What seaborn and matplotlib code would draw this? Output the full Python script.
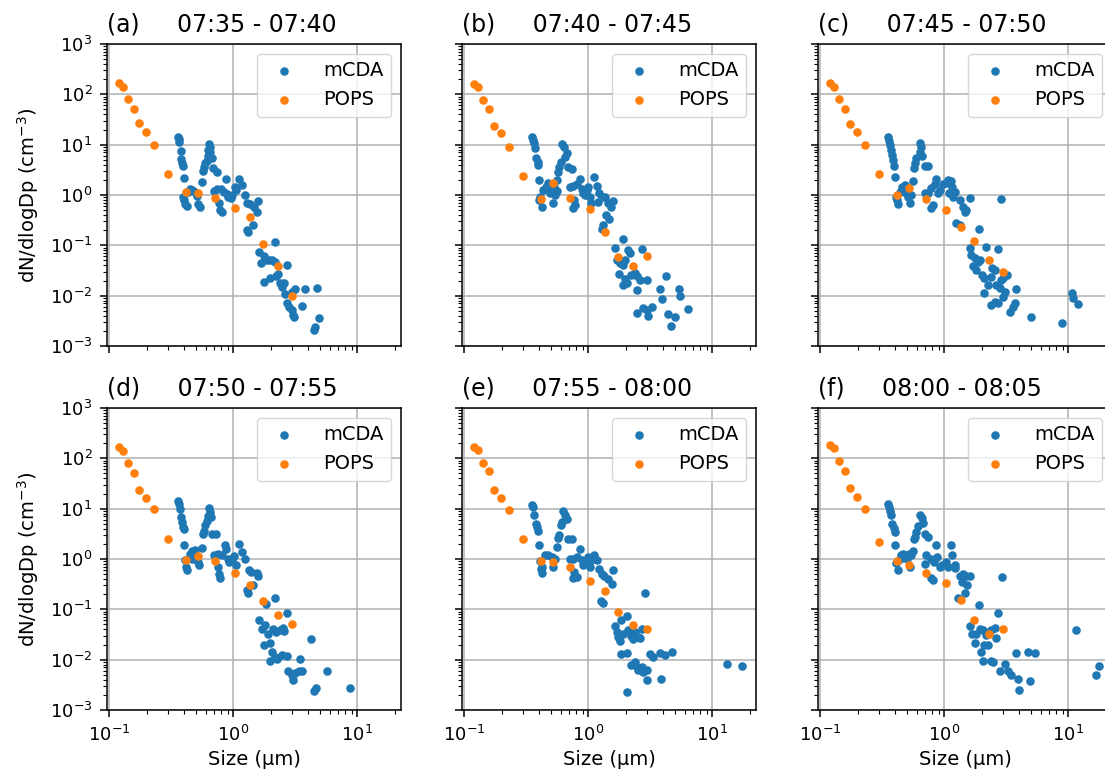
import matplotlib
matplotlib.use("Agg")
import matplotlib.pyplot as plt
import seaborn as sns

# ---------------- data ----------------
panel_tags = ["(a)", "(b)", "(c)", "(d)", "(e)", "(f)"]
time_windows = ["07:35 - 07:40", "07:40 - 07:45", "07:45 - 07:50",
                "07:50 - 07:55", "07:55 - 08:00", "08:00 - 08:05"]

pops_size = [0.119, 0.130, 0.143, 0.158, 0.175, 0.197, 0.228, 0.300,
             0.413, 0.523, 0.708, 1.03, 1.37, 1.75, 2.28, 2.97]

pops_a = [165, 138, 80, 52, 26.5, 17.9, 9.85, 2.57, 1.13, 1.10, 0.87, 0.54, 0.36, 0.105, 0.039, 0.010]
pops_b = [160, 138, 77, 50, 23.5, 16.8, 9.0, 2.38, 0.82, 1.71, 0.86, 0.53, 0.18, 0.059, 0.039, 0.060]
pops_c = [165, 142, 80, 52, 25.7, 17.9, 9.85, 2.61, 1.0, 1.40, 0.85, 0.50, 0.235, 0.122, 0.051, 0.029]
pops_d = [168, 142, 80, 52, 23.5, 16.3, 9.7, 2.46, 0.94, 1.13, 0.90, 0.53, 0.31, 0.144, 0.078, 0.050]
pops_e = [168, 144, 81, 55, 23.8, 16.5, 9.4, 2.53, 0.93, 0.87, 0.69, 0.36, 0.23, 0.087, 0.049, 0.041]
pops_f = [187, 160, 88, 57, 25.7, 17.1, 9.7, 2.18, 0.91, 0.77, 0.53, 0.33, 0.155, 0.062, 0.032, 0.041]

mcda_size_a = [0.356, 0.365, 0.367, 0.379, 0.376, 0.388, 0.396, 0.403,
               0.396, 0.403, 0.41, 0.421, 0.434, 0.448, 0.467, 0.491, 0.507, 0.523, 0.539, 0.556,
               0.637, 0.649, 0.629, 0.655, 0.629, 0.67, 0.61, 0.591, 0.584, 0.573, 0.69, 0.734,
               0.70, 0.745, 0.79, 0.846, 0.867, 0.883, 0.912, 0.957, 0.98, 0.767, 0.781, 0.805,
               1.03, 1.06, 1.11, 1.17, 1.24, 1.28, 1.36, 1.48, 1.54, 1.59, 1.45, 1.28, 1.32,
               2.17, 1.62, 1.67, 1.78, 1.85, 1.93, 2.04, 2.17, 1.78, 1.97, 2.23, 2.30, 2.38,
               2.45, 2.57, 2.61, 2.72, 2.95, 3.14, 3.78, 4.75, 2.69, 2.81, 2.95, 3.04, 3.08,
               3.55, 4.5, 4.6, 4.9]
mcda_conc_a = [14.4, 12.8, 11.5, 7.6, 5.1, 4.4, 3.8, 2.14,
               0.93, 0.80, 0.66, 0.60, 1.16, 1.30, 1.26, 1.16, 0.97, 0.66, 0.59, 1.81,
               10.2, 9.1, 7.9, 7.3, 5.96, 5.5, 4.8, 4.26, 3.66, 3.04, 3.39, 2.91,
               1.2, 1.30, 1.30, 1.16, 2.08, 1.05, 0.93, 0.86, 1.0, 0.70, 0.50, 0.47,
               1.46, 1.26, 2.08, 1.58, 1.0, 0.68, 0.66, 0.59, 0.47, 0.77, 0.25, 0.20, 0.18,
               0.118, 0.075, 0.044, 0.060, 0.050, 0.051, 0.051, 0.046, 0.019, 0.022, 0.025, 0.027, 0.018,
               0.015, 0.0176, 0.011, 0.041, 0.012, 0.0134, 0.0134, 0.014, 0.0070, 0.0060, 0.0052, 0.0041, 0.0038,
               0.0062, 0.0021, 0.0024, 0.0036]

mcda_size_b = [0.354, 0.36, 0.367, 0.372, 0.379, 0.39, 0.396, 0.40,
               0.408, 0.421, 0.434, 0.454, 0.477, 0.491, 0.513, 0.532, 0.539, 0.523, 0.556, 0.40,
               0.617, 0.641, 0.67, 0.649, 0.602, 0.58, 0.566, 0.556, 0.69, 0.734,
               0.708, 0.757, 0.805, 0.856, 0.883, 0.912, 0.94, 0.97, 1.0, 1.03, 1.06, 1.12, 1.17,
               1.22, 1.19, 1.28, 1.36, 1.45, 1.52, 1.59, 1.40, 1.47, 1.32, 1.28, 0.77, 0.78, 0.757,
               1.89, 1.64, 2.1, 2.17, 1.69, 1.80, 1.91, 1.97, 1.77, 1.97, 2.04, 1.89, 2.23, 2.38,
               2.49, 2.61, 2.45, 2.72, 2.95, 4.2, 3.78, 3.9, 5.37, 5.47, 6.31, 2.46, 2.77, 2.95,
               3.04, 3.24, 4.41, 4.99, 4.63]
mcda_conc_b = [14.0, 12.4, 10.6, 8.45, 5.35, 4.6, 3.94, 1.99,
               0.93, 0.59, 1.26, 1.46, 1.70, 1.08, 1.26, 1.46, 1.0, 0.68, 1.2, 0.80,
               10.3, 9.1, 6.9, 5.8, 4.6, 3.66, 2.9, 1.99, 3.55, 3.24,
               1.46, 1.51, 1.65, 2.05, 1.30, 1.08, 1.0, 1.26, 1.46, 0.93, 0.68, 2.31, 1.51,
               1.08, 0.74, 0.93, 0.93, 0.68, 0.59, 0.77, 0.40, 0.34, 0.25, 0.21, 0.80, 0.63, 0.54,
               0.134, 0.087, 0.081, 0.071, 0.050, 0.044, 0.041, 0.051, 0.0265, 0.021, 0.0176, 0.0163, 0.026, 0.028,
               0.0246, 0.0205, 0.013, 0.083, 0.0205, 0.0246, 0.0134, 0.0085, 0.0136, 0.0098, 0.0055, 0.0046, 0.0056, 0.0052,
               0.0039, 0.0060, 0.0043, 0.0038, 0.0025]

mcda_size_c = [0.352, 0.358, 0.367, 0.374, 0.381, 0.386, 0.394, 0.403,
               0.411, 0.424, 0.437, 0.459, 0.48, 0.495, 0.51, 0.526, 0.542, 0.559, 0.418,
               0.633, 0.653, 0.641, 0.664, 0.595, 0.577, 0.566, 0.694, 0.739,
               0.694, 0.739, 0.786, 0.836, 0.861, 0.889, 0.917, 0.975, 1.025, 1.07, 1.14, 1.10,
               1.17, 1.23, 1.16, 0.786, 0.81, 1.33, 1.41, 1.46, 1.50, 1.60, 1.25, 1.33, 2.88,
               1.89, 2.18, 2.73, 1.62, 1.65, 1.76, 1.87, 1.95, 1.70, 1.81, 2.02, 2.11, 2.25,
               2.39, 2.44, 2.55, 2.63, 2.79, 2.88, 2.97, 3.20, 3.07, 2.97, 2.08, 2.39, 2.55,
               2.71, 3.37, 3.58, 3.69, 3.81, 5.03, 8.89, 10.8, 11.0, 12.0]
mcda_conc_c = [14.0, 12.0, 9.85, 7.8, 6.2, 4.96, 3.77, 2.24,
               0.93, 0.66, 1.16, 1.46, 1.58, 1.08, 0.93, 0.68, 1.0, 1.93, 0.80,
               11.0, 9.1, 7.3, 5.96, 5.35, 4.26, 3.39, 3.77, 3.77,
               1.08, 1.11, 1.36, 1.65, 2.05, 1.08, 1.26, 1.65, 1.76, 1.99, 1.93, 1.11,
               0.93, 1.16, 1.46, 0.54, 0.63, 0.80, 0.59, 0.47, 0.50, 0.86, 0.28, 0.25, 0.83,
               0.208, 0.094, 0.083, 0.087, 0.064, 0.055, 0.047, 0.051, 0.038, 0.032, 0.026, 0.022, 0.0163,
               0.024, 0.035, 0.033, 0.0163, 0.014, 0.0205, 0.022, 0.026, 0.012, 0.0095, 0.0111, 0.0065, 0.0076,
               0.0070, 0.0048, 0.0060, 0.0073, 0.0134, 0.0038, 0.0028, 0.0111, 0.0089, 0.0068]

mcda_size_d = [0.356, 0.365, 0.372, 0.379, 0.388, 0.396, 0.403, 0.403,
               0.408, 0.413, 0.421, 0.448, 0.467, 0.491, 0.507, 0.523, 0.529, 0.556, 0.462,
               0.637, 0.649, 0.621, 0.66, 0.61, 0.591, 0.584, 0.573, 0.677, 0.72,
               0.703, 0.748, 0.805, 0.857, 0.867, 0.9, 0.923, 0.97, 1.02, 1.06, 1.11, 1.17,
               1.24, 1.34, 1.40, 1.54, 1.59, 0.748, 0.767, 0.781, 1.28, 1.32, 1.45,
               2.17, 1.85, 2.72, 1.61, 1.69, 1.80, 1.91, 2.10, 2.23, 2.38, 2.53, 2.57, 1.78,
               1.97, 2.04, 2.17, 2.27, 1.97, 2.45, 2.69, 3.44, 4.22, 2.77, 2.95, 3.04, 3.14,
               3.38, 3.55, 5.7, 4.49, 4.63, 8.7]
mcda_conc_d = [14.0, 12.6, 9.7, 6.8, 5.4, 4.3, 3.88, 1.87,
               0.94, 0.69, 0.60, 1.28, 1.42, 1.49, 1.15, 0.87, 0.75, 1.65, 1.02,
               10.3, 8.6, 7.1, 6.8, 5.6, 4.8, 3.55, 3.18, 3.18, 3.09,
               1.22, 1.28, 1.18, 1.87, 1.60, 1.02, 0.87, 1.02, 1.15, 0.75, 1.96, 1.38,
               0.99, 0.60, 0.55, 0.53, 0.47, 0.69, 0.51, 0.41, 0.24, 0.21, 0.30,
               0.171, 0.130, 0.085, 0.060, 0.040, 0.048, 0.033, 0.041, 0.035, 0.038, 0.043, 0.037, 0.020,
               0.021, 0.0142, 0.0113, 0.0105, 0.0093, 0.0122, 0.0118, 0.0102, 0.0253, 0.0059, 0.0049, 0.0039, 0.0055,
               0.0059, 0.0060, 0.0059, 0.0024, 0.0027, 0.0027]

mcda_size_e = [0.350, 0.360, 0.367, 0.376, 0.383, 0.390, 0.40,
               0.408, 0.416, 0.426, 0.448, 0.477, 0.507, 0.539, 0.523, 0.426,
               0.629, 0.649, 0.67, 0.61, 0.602, 0.58, 0.566, 0.556, 0.69, 0.734,
               0.708, 0.757, 0.805, 0.857, 0.883, 0.912, 0.97, 1.0, 1.03, 1.06, 1.12, 1.17,
               1.22, 1.28, 1.34, 1.45, 1.59, 1.54, 1.26, 1.32, 0.77, 0.757, 0.805,
               2.89, 2.07, 1.85, 1.64, 1.69, 1.74, 1.80, 1.91, 2.10, 2.23, 2.30, 2.38, 2.50,
               2.61, 2.69, 1.83, 2.04, 3.14, 3.34, 3.78, 4.14, 4.75, 2.23, 2.38, 2.45, 2.53,
               2.69, 2.77, 2.95, 3.0, 3.89, 2.07, 13.2, 17.4]
mcda_conc_e = [12.0, 10.8, 7.4, 5.0, 4.3, 3.55, 1.87,
               0.90, 0.64, 0.53, 1.18, 1.22, 1.10, 1.02, 0.69, 0.69,
               8.9, 7.4, 6.3, 5.4, 4.8, 3.04, 2.61, 1.73, 2.53, 2.46,
               0.99, 1.02, 1.10, 1.60, 0.94, 0.75, 0.87, 1.10, 0.69, 0.94, 1.22, 0.94,
               0.62, 0.51, 0.46, 0.40, 0.60, 0.32, 0.144, 0.135, 0.55, 0.41, 0.44,
               0.214, 0.074, 0.060, 0.047, 0.035, 0.028, 0.023, 0.033, 0.038, 0.030, 0.026, 0.035, 0.028,
               0.027, 0.041, 0.0132, 0.0138, 0.0132, 0.0113, 0.0138, 0.0124, 0.014, 0.0077, 0.0090, 0.0071, 0.0061,
               0.0071, 0.0057, 0.0061, 0.0040, 0.0042, 0.0023, 0.0082, 0.0074]

mcda_size_f = [0.352, 0.358, 0.367, 0.374, 0.381, 0.39, 0.398, 0.403,
               0.411, 0.424, 0.437, 0.451, 0.465, 0.48, 0.50, 0.526, 0.542, 0.559, 0.52,
               0.633, 0.664, 0.68, 0.614, 0.595, 0.577, 0.566, 0.694, 0.739,
               0.694, 0.716, 0.786, 0.82, 0.861, 0.873, 0.917, 0.963, 1.025, 1.07, 1.14, 1.16,
               1.21, 1.23, 1.33, 1.41, 1.50, 1.60, 1.40, 1.52, 0.786, 0.81, 1.29, 1.46, 2.92,
               1.89, 2.73, 1.62, 1.68, 1.79, 1.93, 2.05, 2.18, 2.11, 2.25, 1.99, 2.39, 2.55,
               2.59, 1.76, 2.05, 2.39, 2.47, 3.07, 2.79, 3.26, 3.47, 3.93, 4.88, 3.81, 4.73,
               5.38, 4.0, 11.5, 16.8, 17.7]
mcda_conc_f = [12.6, 10.8, 8.9, 7.4, 5.0, 4.1, 3.45, 1.87,
               0.82, 0.60, 1.02, 1.18, 1.28, 1.10, 1.02, 0.69, 1.18, 1.42, 1.28,
               7.4, 6.5, 5.2, 4.6, 3.45, 2.73, 2.46, 3.18, 2.73,
               0.80, 1.18, 1.02, 0.87, 1.87, 1.10, 0.69, 0.75, 0.87, 0.69, 1.87, 1.18,
               0.75, 0.66, 0.47, 0.51, 0.47, 0.47, 0.35, 0.31, 0.41, 0.38, 0.171, 0.214, 0.43,
               0.120, 0.085, 0.047, 0.033, 0.033, 0.040, 0.039, 0.031, 0.0193, 0.0193, 0.0142, 0.038, 0.043,
               0.027, 0.021, 0.0093, 0.0093, 0.009, 0.0083, 0.0059, 0.0059, 0.0050, 0.0042, 0.0037, 0.0136, 0.0142,
               0.0138, 0.0025, 0.039, 0.0050, 0.0075]

mcda_sizes = [mcda_size_a, mcda_size_b, mcda_size_c, mcda_size_d, mcda_size_e, mcda_size_f]
mcda_concs = [mcda_conc_a, mcda_conc_b, mcda_conc_c, mcda_conc_d, mcda_conc_e, mcda_conc_f]
pops_concs = [pops_a, pops_b, pops_c, pops_d, pops_e, pops_f]

# ---------------- figure ----------------
W, H = 1105, 773
fig = plt.figure(figsize=(W / 100, H / 100), dpi=100)

col_left_px = [107, 462, 818]
row_top_px = [44, 408]
ax_w_px, ax_h_px = 294, 302

blue = "#1f77b4"
orange = "#ff7f0e"

axes = []
first = None
for i in range(6):
    r, c = divmod(i, 3)
    rect = [col_left_px[c] / W, 1 - (row_top_px[r] + ax_h_px) / H, ax_w_px / W, ax_h_px / H]
    if first is None:
        ax = fig.add_axes(rect)
        first = ax
    else:
        ax = fig.add_axes(rect, sharex=first, sharey=first)
    axes.append(ax)

    sns.scatterplot(x=mcda_sizes[i], y=mcda_concs[i], ax=ax, color=blue, s=38,
                    linewidth=0, label="mCDA", zorder=3)
    sns.scatterplot(x=pops_size, y=pops_concs[i], ax=ax, color=orange, s=38,
                    linewidth=0, label="POPS", zorder=3)
    ax.set_xscale("log")
    ax.set_yscale("log")
    ax.set_axisbelow(True)
    ax.grid(True, which="major", color="#b0b0b0", linewidth=1.1)
    for sp in ax.spines.values():
        sp.set_linewidth(1.1)
    ax.tick_params(which="major", labelsize=13, length=5, width=1.1, pad=5.5)
    ax.tick_params(which="minor", length=2.8, width=0.8)
    ax.set_title(f"{panel_tags[i]}     {time_windows[i]}", loc="left", fontsize=17, pad=9)
    ax.legend(loc="upper right", fontsize=14, handletextpad=1.0)
    if c == 0:
        ax.set_ylabel("dN/dlogDp (cm$^{-3}$)", fontsize=14, labelpad=6)
    else:
        ax.set_ylabel("")
        ax.tick_params(labelleft=False)
    if r == 1:
        ax.set_xlabel("Size (µm)", fontsize=14)
    else:
        ax.set_xlabel("")
        ax.tick_params(labelbottom=False)

first.set_xlim(0.096, 22.5)
first.set_ylim(1e-3, 1e3)

fig.savefig("out.png", dpi=100)
